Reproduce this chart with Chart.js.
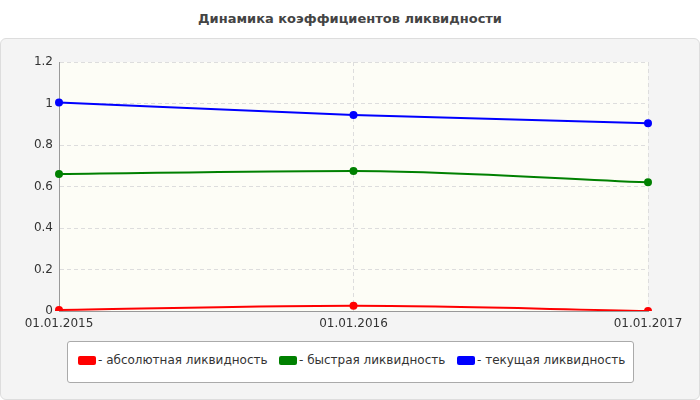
<!DOCTYPE html>
<html><head><meta charset="utf-8">
<script src="https://cdn.jsdelivr.net/npm/chart.js@4"></script>
<style>
body{margin:0;width:700px;height:400px;background:#fff;font-family:"DejaVu Sans",Verdana,sans-serif;position:relative;overflow:hidden}
#title{position:absolute;top:11px;width:700px;text-align:center;font-weight:bold;font-size:13px;color:#444}
#panel{position:absolute;left:0;top:38px;width:698px;height:360px;background:#f4f4f4;border:1px solid #ddd;border-radius:6px}
#c{position:absolute;left:0;top:0}
#legend{position:absolute;left:67px;top:341px;width:565px;height:40px;background:#fff;border:1px solid #aaa;border-radius:3px;font-size:12px;color:#333}
.it{position:absolute;top:11px;white-space:nowrap}
.sw{display:inline-block;width:18px;height:9px;border-radius:2px;vertical-align:middle;margin-right:2px}
</style></head><body>
<div id="title">Динамика коэффициентов ликвидности</div>
<div id="panel"></div>
<canvas id="c" width="700" height="335"></canvas>
<div id="legend"></div>
<script>
Chart.defaults.font.family='"DejaVu Sans", Verdana, sans-serif';
const categories=["01.01.2015","01.01.2016","01.01.2017"];
const absolute=[0.005,0.025,0.0];
const quick=[0.66,0.675,0.62];
const current=[1.005,0.945,0.905];
const names=["- абсолютная ликвидность","- быстрая ликвидность","- текущая ликвидность"];
const colors=["#ff0000","#008000","#0000ff"];
const lg=document.getElementById('legend');
const lefts=[10,211,389];
names.forEach((n,i)=>{const d=document.createElement('div');d.className='it';d.style.left=lefts[i]+'px';d.innerHTML='<span class="sw" style="background:'+colors[i]+'"></span>'+n;lg.appendChild(d);});
const bgPlugin={id:'bg',beforeDraw(ch){const a=ch.chartArea,c=ch.ctx;c.save();c.fillStyle='#fdfdf6';c.fillRect(a.left,a.top,a.right-a.left,a.bottom-a.top);c.restore();}};
const mk=(d,i)=>({data:d,borderColor:colors[i],backgroundColor:colors[i],borderWidth:2,pointRadius:3,tension:0.3,cubicInterpolationMode:'monotone'});
new Chart(document.getElementById('c'),{type:'line',
data:{labels:categories,datasets:[mk(absolute,0),mk(quick,1),mk(current,2)]},
options:{responsive:false,animation:false,layout:{padding:{top:62,right:52,left:0,bottom:0}},
plugins:{legend:{display:false},tooltip:{enabled:false}},
scales:{x:{offset:false,grid:{color:'#ddd',drawTicks:false},border:{color:'#999',dash:[4,3]},
ticks:{color:'#333',font:{size:12},maxRotation:0,autoSkip:false,padding:6},afterFit(s){s.height=24;}},
y:{min:0,max:1.2,grid:{color:'#ddd',drawTicks:false},border:{color:'#999',dash:[4,3]},
ticks:{stepSize:0.2,color:'#333',font:{size:12},padding:6,callback:v=>String(Math.round(v*10)/10)},afterFit(s){s.width=59;}}}},
plugins:[bgPlugin]});
</script></body></html>
